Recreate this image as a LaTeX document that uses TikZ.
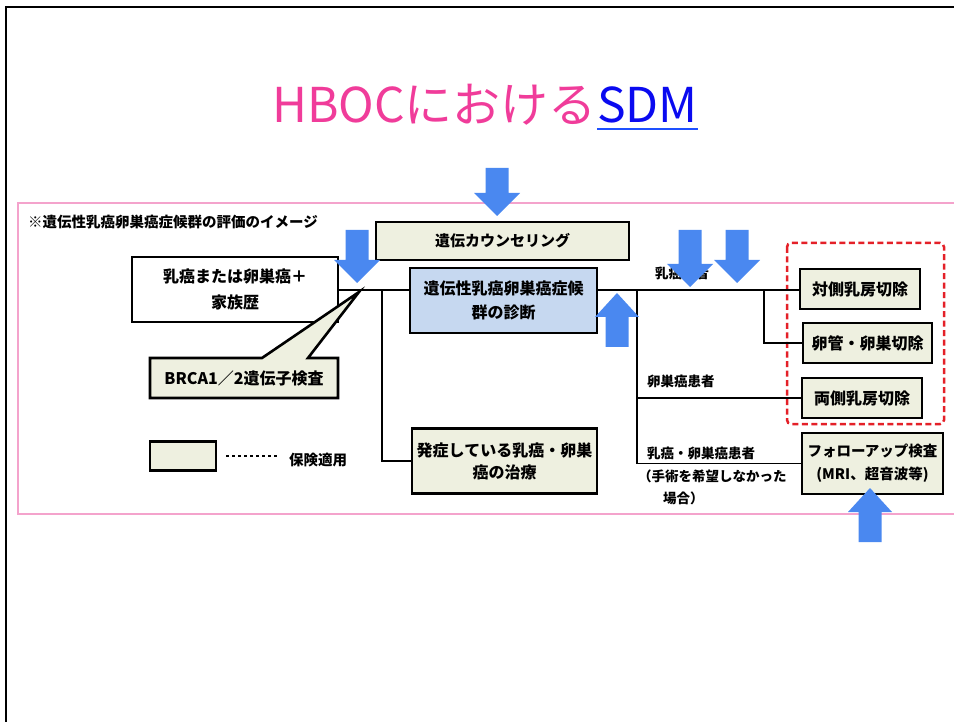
\documentclass[tikz,border=0pt]{standalone}
\usepackage{fontspec}
\setmainfont{Noto Sans CJK JP}
\usetikzlibrary{calc}
\definecolor{pinkt}{HTML}{F03C9A}
\definecolor{sdmblue}{HTML}{0A0AF0}
\definecolor{ulblue}{HTML}{1E50FF}
\definecolor{framepink}{HTML}{F4A3CC}
\definecolor{beige}{HTML}{EEF0E0}
\definecolor{lightblue}{HTML}{C6D8F0}
\definecolor{arrowblue}{HTML}{4A88F0}
\definecolor{dashred}{HTML}{E42028}
\newcommand\ArrDn[3]{\fill[arrowblue] (#1-11.5,#2) -- (#1+11.5,#2) -- (#1+11.5,#3-23) -- (#1+23,#3-23) -- (#1,#3) -- (#1-23,#3-23) -- (#1-11.5,#3-23) -- cycle;}
\newcommand\ArrUp[3]{\fill[arrowblue] (#1-11.5,#2) -- (#1+11.5,#2) -- (#1+11.5,#3+24) -- (#1+22,#3+24) -- (#1,#3) -- (#1-22,#3+24) -- (#1-11.5,#3+24) -- cycle;}
\begin{document}
\begin{tikzpicture}[x=1pt,y=-1pt,
  box/.style={draw=black, line width=2.6pt, fill=beige, align=center, inner sep=0pt,
    font=\bfseries\fontsize{16}{24}\selectfont},
  lab/.style={anchor=west, inner sep=0pt, font=\bfseries\fontsize{13.5}{16}\selectfont},
  conn/.style={line width=1.3pt, draw=black}]
\useasboundingbox (0,0) rectangle (954,722);
% slide frame
\draw[line width=2.5pt] (954,7) -- (6,7) -- (6,722);
% title
\node[anchor=base east, inner sep=0pt, text=pinkt, font=\fontsize{48}{50}\selectfont] (t1) at (597,123) {HBOCにおける};
\node[anchor=base west, inner sep=0pt, text=sdmblue, font=\fontsize{48}{50}\selectfont] (t2) at (597,123) {SDM};
\draw[ulblue, line width=2.6pt] ([yshift=-6pt]t2.base west) -- ([yshift=-6pt]t2.base east);
% pink frame
\draw[framepink, line width=1.3pt] (954,203) -- (18,203) -- (18,514) -- (954,514);
% header
\node[anchor=west, inner sep=0pt, font=\bfseries\fontsize{14.5}{16}\selectfont] (hdr) at (28,222) {※遺伝性乳癌卵巣癌症候群の評価のイメージ};
% boxes
\node[box, minimum width=253pt, minimum height=38pt, font=\bfseries\fontsize{15}{20}\selectfont] (couns) at (502.5,241) {遺伝カウンセリング};
\node[box, fill=white, minimum width=206pt, minimum height=65pt, font=\bfseries\fontsize{16}{26}\selectfont] (fam) at (235,289.5) {乳癌または卵巣癌＋\\家族歴};
\node[box, fill=lightblue, minimum width=187pt, minimum height=65pt] (diag) at (503.5,300.5) {遺伝性乳癌卵巣癌症候\\群の診断};
\node[box, minimum width=185pt, minimum height=65pt, font=\bfseries\fontsize{16}{22}\selectfont] (treat) at (504.5,461) {発症している乳癌・卵巣\\癌の治療};
% BRCA callout
\filldraw[fill=beige, draw=black, line width=2.6pt, line join=miter] (150,358) -- (262,358) -- (359,292) -- (308,358) -- (338,358) -- (338,398) -- (150,398) -- cycle;
\node[inner sep=0pt, font=\bfseries\fontsize{16}{20}\selectfont] (brca) at (244,378) {BRCA1／2遺伝子検査};
% legend
\node[box, minimum width=66pt, minimum height=29pt] (leg) at (183,456) {};
\draw[line width=1.8pt, dash pattern=on 3pt off 3pt] ([xshift=9pt]leg.east) -- ([xshift=61pt]leg.east);
\node[anchor=west, inner sep=0pt, font=\bfseries\fontsize{14.5}{16}\selectfont] (legt) at (289,460) {保険適用};
% right boxes
\draw[dashred, line width=2.5pt, dash pattern=on 6pt off 3.5pt, rounded corners=4pt] (787,243) rectangle (944,424);
\node[box, minimum width=120pt, minimum height=40pt] (r1) at (860,289) {対側乳房切除};
\node[box, minimum width=129pt, minimum height=40pt] (r2) at (867.5,343) {卵管・卵巣切除};
\node[box, minimum width=120pt, minimum height=40pt] (r3) at (862,398) {両側乳房切除};
\node[box, minimum width=141pt, minimum height=61pt, font=\bfseries\fontsize{14.5}{23}\selectfont] (fu) at (872.5,463.5) {フォローアップ検査\\(MRI、超音波等)};
% connectors
\coordinate (jA) at (382,290);
\coordinate (jB) at (637,290);
\coordinate (jC) at (764,290);
\draw[conn] (fam.east |- jA) -- (diag.west |- jA);
\draw[conn] (jA) |- (treat.west);
\draw[conn] (diag.east |- jB) -- (r1.west |- jB);
\draw[conn] (jC) |- (r2.west);
\draw[conn] (jB) |- (fu.west);
\draw[conn] (r3.west -| jB) -- (r3.west);
% labels
\node[lab] (l1) at (655,273) {乳癌患者};
\node[lab] (l2) at (647,381) {卵巣癌患者};
\node[lab] (l3) at (647,453) {乳癌・卵巣癌患者};
\node[lab] (l4) at (638,476) {（手術を希望しなかった};
\node[lab] (l5) at (663,498) {場合）};
% blue arrows
\ArrDn{497}{168}{216}
\ArrDn{357}{230}{283}
\ArrUp{617}{347}{293}
\ArrDn{690}{230}{287}
\ArrDn{737}{230}{283}
\ArrUp{870}{542}{488}
\end{tikzpicture}
\end{document}
